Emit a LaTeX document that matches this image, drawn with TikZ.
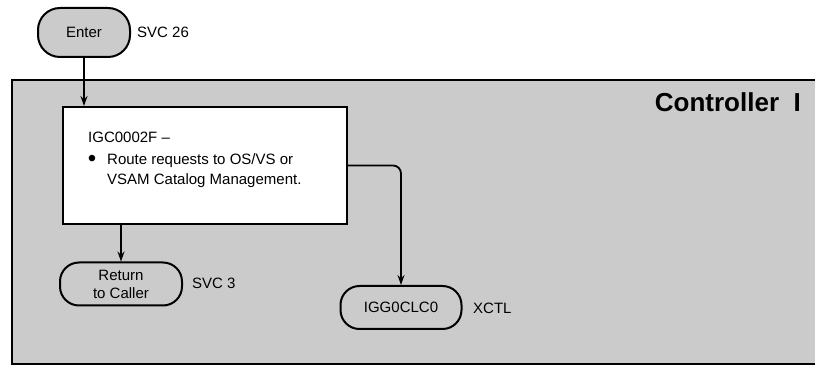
\documentclass[tikz,border=0pt]{standalone}
\usepackage{fontspec}
\setmainfont{Liberation Sans}
\usetikzlibrary{arrows.meta,positioning}

\definecolor{panelgray}{RGB}{203,203,203}

\begin{document}
\begin{tikzpicture}[x=1pt,y=-1pt,
  term/.style={rectangle, draw, line width=2pt, fill=panelgray, rounded corners=19pt, minimum height=43pt, align=center, inner sep=0pt, font=\fontsize{15pt}{18pt}\selectfont},
  tag/.style={anchor=west, inner sep=0pt, font=\fontsize{15pt}{18pt}\selectfont},
  txt/.style={anchor=base west, inner sep=0pt, font=\fontsize{15pt}{18pt}\selectfont},
  flow/.style={line width=1.8pt, -{Stealth[length=10pt,width=7pt]}}]
\useasboundingbox (0,0) rectangle (815,366);
% Controller panel
\fill[panelgray] (12,80) rectangle (830,364);
\draw[line width=2.2pt] (830,80) -- (12,80) -- (12,364) -- (830,364);
\node[anchor=east, inner sep=0pt, font=\bfseries\fontsize{26pt}{30pt}\selectfont] (title) at (801,102) {Controller\ \ I};
% entry point
\node[term, minimum width=92pt, minimum height=49pt, rounded corners=22pt] (enter) at (84,32.5) {Enter};
\node[tag] (svc26) at (137,32) {SVC 26};
% module box
\node[rectangle, draw, line width=2pt, fill=white, minimum width=284pt, minimum height=117pt] (igc) at (205,165.5) {};
\node[txt] (igcname) at (88,143) {IGC0002F –};
\node[inner sep=0pt, font=\fontsize{24pt}{24pt}\selectfont] (dot) at (92,161) {•};
\node[txt] (line1) at (107,165) {Route requests to OS/VS or};
\node[txt] (line2) at (107,185) {VSAM Catalog Management.};
% exits
\node[term, minimum width=122pt] (ret) at (121,284) {Return\\to Caller};
\node[tag] (svc3) at (192,283) {SVC 3};
\node[term, minimum width=121pt] (ctl) at (401,307.5) {IGG0CLC0};
\node[tag] (xctl) at (473,308) {XCTL};
% connectors
\draw[flow] (enter.south) -- (enter.south |- igc.north);
\draw[flow] (igc.south -| ret.north) -- (ret.north);
\draw[flow, rounded corners=8pt] (igc.east) -| (ctl.north);
\end{tikzpicture}
\end{document}
